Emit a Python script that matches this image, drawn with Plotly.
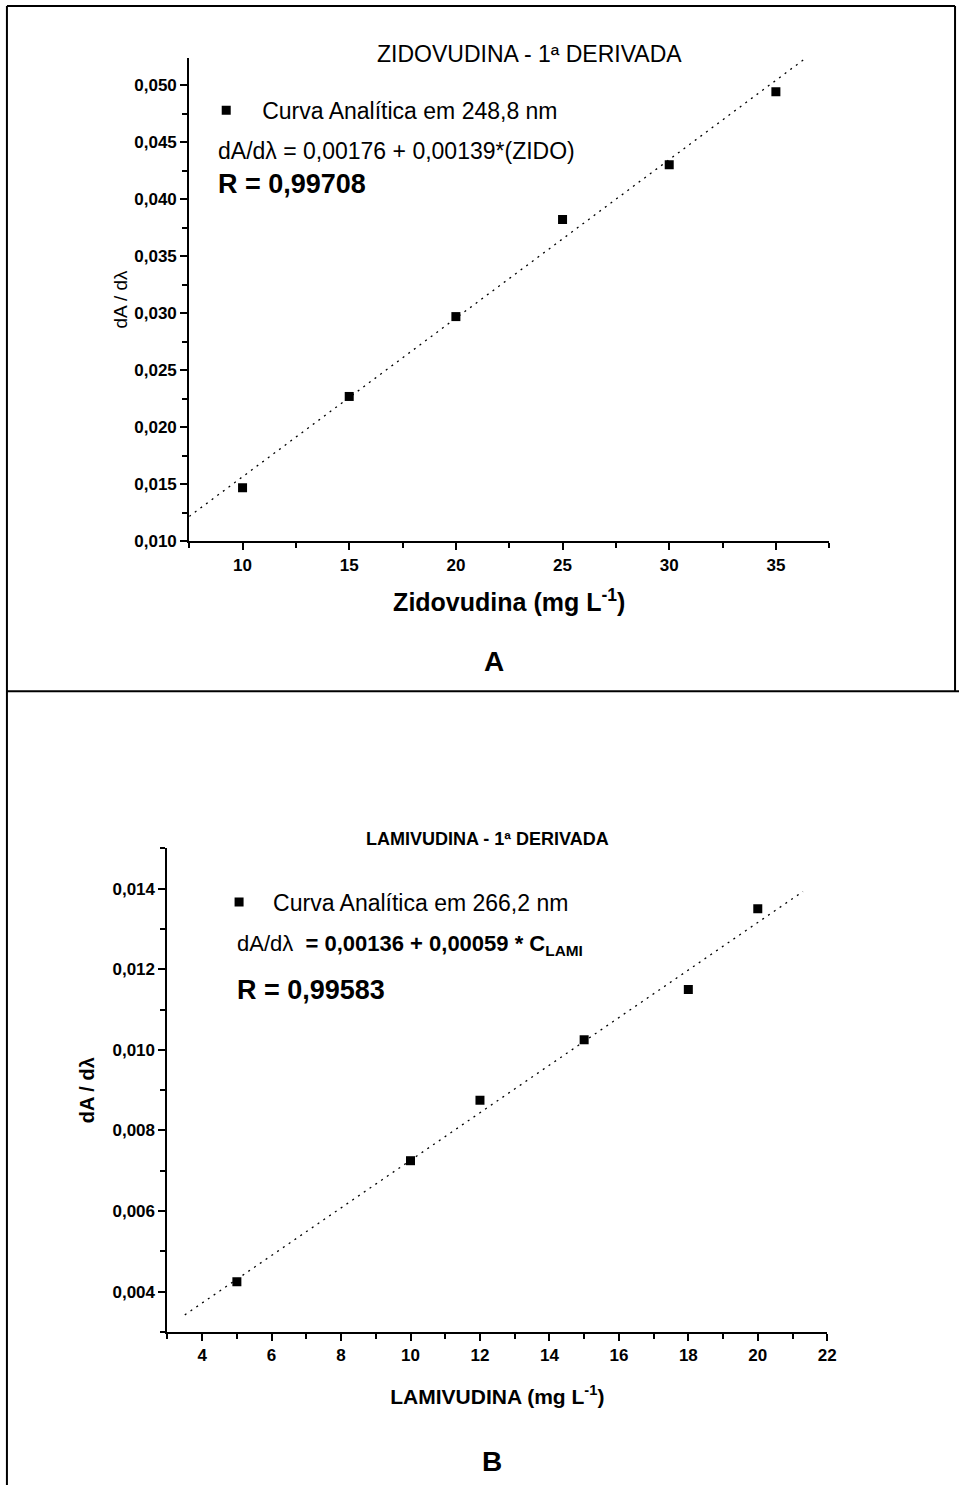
import plotly.graph_objects as go

W, H = 968, 1495

# Zidovudina calibration (1st derivative, 248.8 nm)
zido_conc = [10, 15, 20, 25, 30, 35]
zido_deriv = [0.0147, 0.0227, 0.0297, 0.0382, 0.0430, 0.0494]
zido_intercept, zido_slope = 0.00176, 0.00139
zido_fit_x = [7.5, 36.3]

# Lamivudina calibration (1st derivative, 266.2 nm)
lami_conc = [5, 10, 12, 15, 18, 20]
lami_deriv = [0.00425, 0.00725, 0.00875, 0.01025, 0.0115, 0.0135]
lami_intercept, lami_slope = 0.00136, 0.00059
lami_fit_x = [3.5, 21.3]


def px(x):
    return x / W


def py(y):
    return 1 - y / H


SANS = "Liberation Sans, Arial, sans-serif"

fig = go.Figure()

# --- panel A -------------------------------------------------------------
fig.add_trace(go.Scatter(
    x=zido_conc, y=zido_deriv, mode="markers", name="Curva Analítica em 248,8 nm",
    marker=dict(symbol="square", size=9, color="black"),
    xaxis="x", yaxis="y", legend="legend"))
fig.add_trace(go.Scatter(
    x=zido_fit_x, y=[zido_intercept + zido_slope * v for v in zido_fit_x],
    mode="lines", line=dict(color="black", width=1.3, dash="2px,5px"),
    showlegend=False, xaxis="x", yaxis="y", hoverinfo="skip"))

# --- panel B -------------------------------------------------------------
fig.add_trace(go.Scatter(
    x=lami_conc, y=lami_deriv, mode="markers", name="Curva Analítica em 266,2 nm",
    marker=dict(symbol="square", size=9, color="black"),
    xaxis="x2", yaxis="y2", legend="legend2"))
fig.add_trace(go.Scatter(
    x=lami_fit_x, y=[lami_intercept + lami_slope * v for v in lami_fit_x],
    mode="lines", line=dict(color="black", width=1.3, dash="2px,5px"),
    showlegend=False, xaxis="x2", yaxis="y2", hoverinfo="skip"))

axis_common = dict(
    showline=True, linecolor="black", linewidth=2, mirror=False,
    showgrid=False, zeroline=False, ticks="outside", ticklen=7, tickwidth=1.5,
    tickcolor="black", tickfont=dict(family=SANS, size=17, color="black", weight="bold"),
)
minor_common = dict(ticks="outside", ticklen=5, tickcolor="black", tickwidth=1.5, tick0=0)

fig.update_layout(
    width=W, height=H,
    margin=dict(l=0, r=0, t=0, b=0),
    paper_bgcolor="white", plot_bgcolor="white",
    separators=",.",
    xaxis=dict(axis_common, domain=[px(191), px(837)], range=[7.5, 37.5],
               dtick=5, tick0=0, anchor="y",
               minor=dict(minor_common, dtick=2.5),
               title=dict(text="Zidovudina (mg L<sup>-1</sup>)", standoff=20,
                          font=dict(family=SANS, size=25, color="black", weight="bold"))),
    yaxis=dict(axis_common, domain=[py(545), py(58)], range=[0.010, 0.0524],
               dtick=0.005, tick0=0, tickformat=".3f", anchor="x",
               minor=dict(minor_common, dtick=0.0025),
               title=dict(text="dA / dλ", standoff=2,
                          font=dict(family=SANS, size=19, color="black"))),
    xaxis2=dict(axis_common, domain=[px(169), px(835)], range=[3, 22],
                dtick=2, tick0=0, anchor="y2",
                minor=dict(minor_common, dtick=1),
                title=dict(text="LAMIVUDINA (mg L<sup>-1</sup>)", standoff=25,
                           font=dict(family=SANS, size=21, color="black", weight="bold"))),
    yaxis2=dict(axis_common, domain=[py(1341), py(854)], range=[0.003, 0.015],
                dtick=0.002, tick0=0, tickformat=".3f", anchor="x2",
                minor=dict(minor_common, dtick=0.001),
                title=dict(text="dA / dλ", standoff=12,
                           font=dict(family=SANS, size=20, color="black", weight="bold"))),
    legend=dict(x=px(192), y=py(111), xanchor="left", yanchor="middle", itemwidth=62,
                bgcolor="rgba(0,0,0,0)", font=dict(family=SANS, size=23, color="black")),
    legend2=dict(x=px(207), y=py(908), xanchor="left", yanchor="middle", itemwidth=58,
                 bgcolor="rgba(0,0,0,0)", font=dict(family=SANS, size=23, color="black")),
    showlegend=True,
)

annotations = [
    dict(text="ZIDOVUDINA - 1ª DERIVADA", x=px(534), y=py(54),
         font=dict(family=SANS, size=23, color="black")),
    dict(text="dA/dλ = 0,00176 + 0,00139*(ZIDO)", x=px(218), y=py(152), xanchor="left",
         font=dict(family=SANS, size=23, color="black")),
    dict(text="<b>R = 0,99708</b>", x=px(218), y=py(185), xanchor="left",
         font=dict(family=SANS, size=27, color="black")),
    dict(text="<b>A</b>", x=px(499), y=py(666),
         font=dict(family=SANS, size=28, color="black")),
    dict(text="<b>LAMIVUDINA - 1ª DERIVADA</b>", x=px(492), y=py(845),
         font=dict(family=SANS, size=18, color="black")),
    dict(text="dA/dλ  <b>= 0,00136 + 0,00059 * C<sub>LAMI</sub></b>", x=px(237), y=py(951),
         xanchor="left", font=dict(family=SANS, size=22, color="black")),
    dict(text="<b>R = 0,99583</b>", x=px(237), y=py(997), xanchor="left",
         font=dict(family=SANS, size=27, color="black")),
    dict(text="<b>B</b>", x=px(497), y=py(1471),
         font=dict(family=SANS, size=28, color="black")),
]
for a in annotations:
    a.setdefault("xanchor", "center")
    a.update(xref="paper", yref="paper", showarrow=False, yanchor="middle")
fig.update_layout(annotations=annotations)

# panel frames
frame = dict(type="line", xref="paper", yref="paper", line=dict(color="black", width=2))
fig.update_layout(shapes=[
    dict(frame, x0=px(7), y0=py(6), x1=px(964), y1=py(6)),
    dict(frame, x0=px(964), y0=py(6), x1=px(964), y1=py(696)),
    dict(frame, x0=px(7), y0=py(6), x1=px(7), y1=py(H)),
    dict(frame, x0=px(7), y0=py(696), x1=px(W), y1=py(696)),
])

fig.write_html("out.html")
